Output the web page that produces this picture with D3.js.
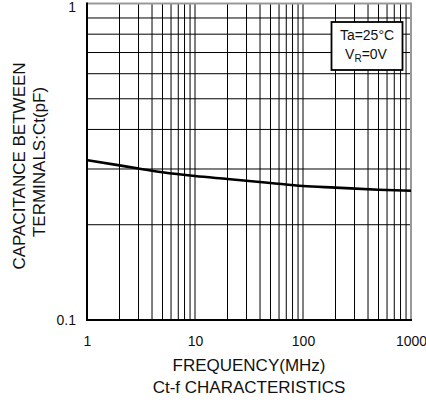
<!DOCTYPE html>
<html>
<head>
<meta charset="utf-8">
<script src="https://cdn.jsdelivr.net/npm/d3@7"></script>
<style>
  html, body { margin: 0; padding: 0; background: #fff; }
  svg { display: block; }
  text { font-family: "Liberation Sans", Arial, sans-serif; fill: #111; }
</style>
</head>
<body>
<svg id="chart" width="426" height="403"></svg>
<script>
// ---- data ----
const freqMHz = [1, 2, 3, 5, 10, 20, 50, 100, 200, 500, 1000];
const capacitancePF = [0.320, 0.308, 0.301, 0.293, 0.285, 0.279, 0.271, 0.265, 0.262, 0.258, 0.256];
const xTickLabels = [1, 10, 100, 1000];
const yTickLabels = [0.1, 1];
const xGridValues = [2,3,4,5,6,7,8,9,10,20,30,40,50,60,70,80,90,100,200,300,400,500,600,700,800,900];
const yGridValues = [0.2,0.3,0.4,0.5,0.6,0.7,0.8,0.9];
const legendLines = ["Ta=25°C", "V_R=0V"];
const xTitle = "FREQUENCY(MHz)";
const chartTitle = "Ct-f CHARACTERISTICS";
const yTitleLines = ["CAPACITANCE BETWEEN", "TERMINALS:Ct(pF)"];

// ---- layout ----
const L = 87, R = 411, T = 3.5, B = 320;
const svg = d3.select("#chart");
const x = d3.scaleLog().domain([1, 1000]).range([L, R]);
const y = d3.scaleLog().domain([0.1, 1]).range([B, T]);

// grid
const g = svg.append("g");
g.selectAll("line.vx").data(xGridValues).join("line")
  .attr("x1", d => x(d)).attr("x2", d => x(d))
  .attr("y1", T).attr("y2", B)
  .attr("stroke", "#000").attr("stroke-width", 1);
g.selectAll("line.hy").data(yGridValues).join("line")
  .attr("y1", d => y(d)).attr("y2", d => y(d))
  .attr("x1", L).attr("x2", R)
  .attr("stroke", "#000").attr("stroke-width", 1);

// frame: top/right gray, left/bottom black
svg.append("line").attr("x1", L).attr("x2", R).attr("y1", T).attr("y2", T)
  .attr("stroke", "#999").attr("stroke-width", 2);
svg.append("line").attr("x1", R).attr("x2", R).attr("y1", T - 1).attr("y2", B)
  .attr("stroke", "#999").attr("stroke-width", 2);
svg.append("line").attr("x1", L).attr("x2", L).attr("y1", T - 1).attr("y2", B + 1)
  .attr("stroke", "#000").attr("stroke-width", 2);
svg.append("line").attr("x1", L).attr("x2", R + 1).attr("y1", B).attr("y2", B)
  .attr("stroke", "#000").attr("stroke-width", 2);

// axes (labels only)
const xAxis = d3.axisBottom(x).tickValues(xTickLabels).tickSize(0).tickPadding(0)
  .tickFormat(d3.format("d"));
const xa = svg.append("g").attr("transform", `translate(0,${B + 16})`).call(xAxis);
xa.select(".domain").remove();
xa.selectAll("text").attr("font-size", 14).attr("font-family", "Liberation Sans, Arial, sans-serif")
  .attr("fill", "#111").attr("dy", "0.71em");

const yAxis = d3.axisLeft(y).tickValues(yTickLabels).tickSize(0).tickPadding(11)
  .tickFormat(d => d === 1 ? "1" : "0.1");
const ya = svg.append("g").attr("transform", `translate(${L},0)`).call(yAxis);
ya.select(".domain").remove();
ya.selectAll("text").attr("font-size", 14).attr("font-family", "Liberation Sans, Arial, sans-serif")
  .attr("fill", "#111")
  .attr("dy", d => d === 1 ? "0.6em" : "0.32em");

// curve
const line = d3.line().x((d, i) => x(freqMHz[i])).y(d => y(d)).curve(d3.curveMonotoneX);
svg.append("path").datum(capacitancePF).attr("d", line)
  .attr("fill", "none").attr("stroke", "#000").attr("stroke-width", 2.6);

// legend
const lg = svg.append("g");
lg.append("rect").attr("x", 331.5).attr("y", 22).attr("width", 71).attr("height", 48)
  .attr("fill", "#fff").attr("stroke", "#000").attr("stroke-width", 1.8);
lg.append("text").attr("x", 367).attr("y", 40).attr("text-anchor", "middle")
  .attr("font-size", 14).text(legendLines[0]);
const t2 = lg.append("text").attr("x", 366).attr("y", 59).attr("text-anchor", "middle")
  .attr("font-size", 14);
const parts = legendLines[1].split("_");
t2.append("tspan").text(parts[0]);
t2.append("tspan").attr("font-size", 10).attr("dy", 3).text(parts[1].charAt(0));
t2.append("tspan").attr("dy", -3).text(parts[1].slice(1));

// titles
svg.append("text").attr("x", 249).attr("y", 371).attr("text-anchor", "middle")
  .attr("font-size", 17).text(xTitle);
svg.append("text").attr("x", 249).attr("y", 393).attr("text-anchor", "middle")
  .attr("font-size", 17).text(chartTitle);
svg.append("text").attr("transform", "translate(25,166) rotate(-90)")
  .attr("text-anchor", "middle").attr("font-size", 17).text(yTitleLines[0]);
svg.append("text").attr("transform", "translate(45,162) rotate(-90)")
  .attr("text-anchor", "middle").attr("font-size", 17).text(yTitleLines[1]);
</script>
</body>
</html>
